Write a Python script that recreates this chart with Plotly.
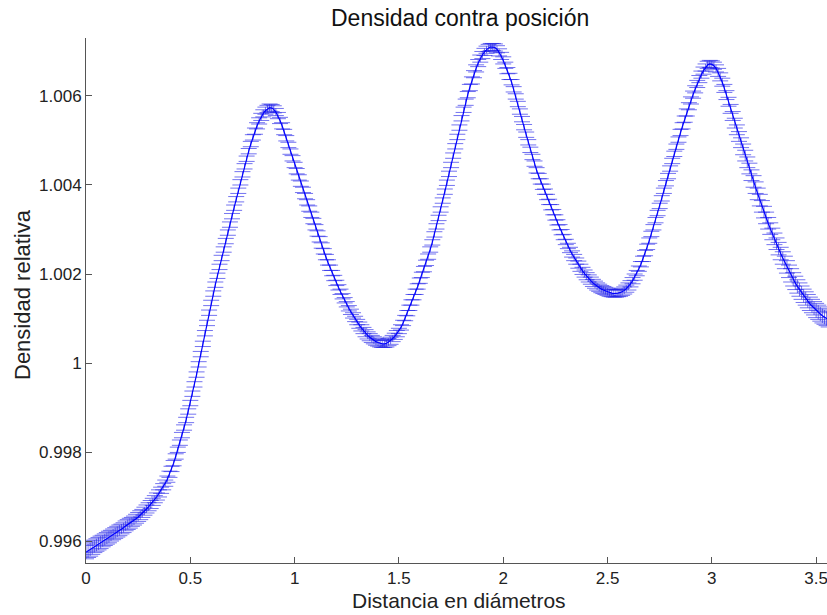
import numpy as np
import plotly.graph_objects as go

# Sample positions (diameters)
distancia = np.round(np.arange(0, 3.5601, 0.01), 2)

# Relative density minus 1, in units of 1e-3
dens_milli = [
    -4.25, -4.22, -4.19, -4.15, -4.12, -4.09, -4.06, -4.03, -4.00, -3.97,
    -3.94, -3.91, -3.88, -3.85, -3.82, -3.79, -3.76, -3.73, -3.70, -3.66,
    -3.63, -3.60, -3.57, -3.54, -3.50, -3.46, -3.42, -3.38, -3.33, -3.28,
    -3.23, -3.18, -3.12, -3.06, -3.00, -2.93, -2.86, -2.78, -2.70, -2.61,
    -2.50, -2.38, -2.25, -2.10, -1.95, -1.79, -1.62, -1.45, -1.28, -1.09,
    -0.90, -0.69, -0.48, -0.26, -0.03, 0.20, 0.43, 0.67, 0.90, 1.13,
    1.35, 1.56, 1.76, 1.96, 2.16, 2.36, 2.55, 2.74, 2.93, 3.11,
    3.30, 3.49, 3.68, 3.87, 4.06, 4.24, 4.42, 4.59, 4.76, 4.92,
    5.07, 5.21, 5.33, 5.44, 5.53, 5.61, 5.67, 5.71, 5.74, 5.73,
    5.70, 5.64, 5.56, 5.45, 5.33, 5.19, 5.05, 4.90, 4.75, 4.60,
    4.45, 4.31, 4.17, 4.03, 3.89, 3.75, 3.61, 3.47, 3.33, 3.19,
    3.05, 2.91, 2.78, 2.64, 2.51, 2.38, 2.26, 2.14, 2.02, 1.91,
    1.80, 1.70, 1.60, 1.50, 1.41, 1.32, 1.23, 1.15, 1.07, 0.99,
    0.92, 0.85, 0.79, 0.73, 0.67, 0.62, 0.58, 0.54, 0.51, 0.48,
    0.46, 0.44, 0.43, 0.43, 0.44, 0.47, 0.50, 0.55, 0.60, 0.66,
    0.72, 0.80, 0.90, 1.01, 1.12, 1.24, 1.36, 1.48, 1.60, 1.72,
    1.85, 1.98, 2.11, 2.25, 2.39, 2.55, 2.71, 2.89, 3.07, 3.26,
    3.45, 3.65, 3.85, 4.05, 4.25, 4.45, 4.66, 4.87, 5.08, 5.29,
    5.50, 5.69, 5.86, 6.03, 6.19, 6.35, 6.49, 6.62, 6.74, 6.84,
    6.92, 6.99, 7.04, 7.08, 7.10, 7.10, 7.09, 7.05, 6.98, 6.90,
    6.80, 6.69, 6.57, 6.44, 6.31, 6.15, 5.99, 5.82, 5.65, 5.48,
    5.30, 5.13, 4.96, 4.79, 4.63, 4.48, 4.33, 4.20, 4.08, 3.96,
    3.85, 3.73, 3.62, 3.50, 3.39, 3.27, 3.16, 3.05, 2.94, 2.83,
    2.72, 2.63, 2.54, 2.45, 2.37, 2.29, 2.21, 2.14, 2.07, 2.01,
    1.95, 1.90, 1.85, 1.80, 1.76, 1.72, 1.69, 1.66, 1.64, 1.62,
    1.60, 1.58, 1.57, 1.56, 1.56, 1.57, 1.58, 1.60, 1.63, 1.67,
    1.72, 1.78, 1.85, 1.93, 2.02, 2.12, 2.22, 2.34, 2.47, 2.61,
    2.75, 2.90, 3.05, 3.21, 3.37, 3.53, 3.70, 3.87, 4.04, 4.20,
    4.37, 4.54, 4.70, 4.86, 5.02, 5.18, 5.33, 5.48, 5.63, 5.77,
    5.90, 6.03, 6.15, 6.27, 6.38, 6.48, 6.57, 6.64, 6.70, 6.72,
    6.71, 6.68, 6.62, 6.53, 6.43, 6.31, 6.17, 6.02, 5.87, 5.71,
    5.55, 5.39, 5.24, 5.09, 4.95, 4.80, 4.66, 4.51, 4.37, 4.22,
    4.08, 3.94, 3.80, 3.66, 3.52, 3.39, 3.26, 3.14, 3.02, 2.90,
    2.79, 2.68, 2.57, 2.46, 2.36, 2.26, 2.16, 2.06, 1.97, 1.88,
    1.80, 1.72, 1.65, 1.58, 1.51, 1.45, 1.39, 1.33, 1.28, 1.23,
    1.18, 1.14, 1.10, 1.06, 1.03, 1.00, 0.97,
]

# Error bar half-lengths, units of 1e-3
err_milli = [
    0.15, 0.15, 0.15, 0.15, 0.14, 0.14, 0.14, 0.14, 0.13, 0.13,
    0.13, 0.13, 0.12, 0.12, 0.12, 0.12, 0.12, 0.11, 0.11, 0.11,
    0.11, 0.11, 0.10, 0.10, 0.10, 0.10, 0.10, 0.09, 0.09, 0.09,
    0.09, 0.09, 0.08, 0.08, 0.08, 0.08, 0.07, 0.07, 0.07, 0.07,
    0.07, 0.06, 0.06, 0.06, 0.06, 0.06, 0.06, 0.06, 0.06, 0.06,
    0.06, 0.06, 0.06, 0.06, 0.06, 0.06, 0.06, 0.06, 0.06, 0.06,
    0.06, 0.06, 0.06, 0.06, 0.06, 0.06, 0.06, 0.06, 0.06, 0.06,
    0.06, 0.06, 0.06, 0.06, 0.06, 0.06, 0.06, 0.06, 0.06, 0.06,
    0.06, 0.07, 0.07, 0.07, 0.08, 0.08, 0.08, 0.08, 0.08, 0.08,
    0.08, 0.08, 0.07, 0.07, 0.07, 0.06, 0.06, 0.06, 0.06, 0.06,
    0.06, 0.06, 0.06, 0.06, 0.06, 0.06, 0.06, 0.06, 0.06, 0.06,
    0.06, 0.06, 0.06, 0.06, 0.06, 0.06, 0.06, 0.06, 0.06, 0.06,
    0.06, 0.06, 0.06, 0.06, 0.06, 0.06, 0.06, 0.06, 0.06, 0.06,
    0.06, 0.07, 0.07, 0.07, 0.08, 0.08, 0.08, 0.08, 0.08, 0.08,
    0.08, 0.08, 0.08, 0.08, 0.08, 0.08, 0.08, 0.07, 0.07, 0.07,
    0.06, 0.06, 0.06, 0.06, 0.06, 0.06, 0.06, 0.06, 0.06, 0.06,
    0.06, 0.06, 0.06, 0.06, 0.06, 0.06, 0.06, 0.06, 0.06, 0.06,
    0.06, 0.06, 0.06, 0.06, 0.06, 0.06, 0.06, 0.06, 0.06, 0.06,
    0.06, 0.06, 0.07, 0.07, 0.07, 0.08, 0.08, 0.08, 0.08, 0.08,
    0.08, 0.08, 0.08, 0.08, 0.08, 0.08, 0.08, 0.08, 0.08, 0.08,
    0.08, 0.07, 0.07, 0.07, 0.06, 0.06, 0.06, 0.06, 0.06, 0.06,
    0.06, 0.06, 0.06, 0.06, 0.06, 0.06, 0.06, 0.06, 0.06, 0.06,
    0.06, 0.06, 0.06, 0.06, 0.06, 0.06, 0.06, 0.06, 0.06, 0.06,
    0.06, 0.06, 0.06, 0.07, 0.07, 0.07, 0.08, 0.08, 0.08, 0.08,
    0.08, 0.08, 0.08, 0.08, 0.08, 0.08, 0.08, 0.08, 0.08, 0.08,
    0.08, 0.08, 0.08, 0.08, 0.08, 0.08, 0.08, 0.08, 0.08, 0.08,
    0.08, 0.07, 0.07, 0.07, 0.06, 0.06, 0.06, 0.06, 0.06, 0.06,
    0.06, 0.06, 0.06, 0.06, 0.06, 0.06, 0.06, 0.06, 0.06, 0.06,
    0.06, 0.06, 0.06, 0.06, 0.06, 0.07, 0.07, 0.07, 0.08, 0.08,
    0.08, 0.08, 0.08, 0.08, 0.08, 0.08, 0.08, 0.08, 0.08, 0.08,
    0.08, 0.08, 0.08, 0.09, 0.09, 0.09, 0.09, 0.10, 0.10, 0.10,
    0.10, 0.11, 0.11, 0.11, 0.11, 0.12, 0.12, 0.12, 0.12, 0.12,
    0.13, 0.13, 0.13, 0.13, 0.13, 0.13, 0.13, 0.13, 0.13, 0.13,
    0.13, 0.13, 0.14, 0.14, 0.14, 0.14, 0.14, 0.14, 0.15, 0.15,
    0.15, 0.15, 0.15, 0.15, 0.15, 0.15, 0.15, 0.15, 0.15, 0.15,
    0.16, 0.16, 0.16, 0.16, 0.16, 0.16, 0.16,
]

x_ticks = [0, 0.5, 1, 1.5, 2, 2.5, 3, 3.5]
x_tick_text = ["0", "0.5", "1", "1.5", "2", "2.5", "3", "3.5"]
y_ticks = [0.996, 0.998, 1.0, 1.002, 1.004, 1.006]
y_tick_text = ["0.996", "0.998", "1", "1.002", "1.004", "1.006"]

titulo = "Densidad contra posición"
x_label = "Distancia en diámetros"
y_label = "Densidad relativa"

densidad = [1 + d * 1e-3 for d in dens_milli]
error = [e * 1e-3 for e in err_milli]

FONT = "Liberation Sans, Arial, sans-serif"

fig = go.Figure()
fig.add_trace(go.Scatter(
    x=distancia, y=densidad, mode="lines",
    line=dict(color="#0000ff", width=1.2),
    error_y=dict(type="data", array=error, visible=True,
                 color="rgba(30,30,230,0.62)", thickness=1, width=8),
    showlegend=False, hoverinfo="x+y",
))

W, H = 827, 615
ml, mr, mt, mb = 86, 0, 38, 52
pw, ph = W - ml - mr, H - mt - mb

axis_common = dict(
    ticks="inside", ticklen=6, tickcolor="#555555",
    showline=True, linecolor="#555555", linewidth=1,
    showgrid=False, zeroline=False, ticklabeloverflow="allow",
    tickfont=dict(size=17, family=FONT, color="#222222"),
)

fig.update_layout(
    width=W, height=H,
    margin=dict(l=ml, r=mr, t=mt, b=mb, pad=0),
    paper_bgcolor="white", plot_bgcolor="white",
    font=dict(family=FONT, color="#222222"),
    showlegend=False,
    xaxis=dict(range=[0, 3.552], tickvals=x_ticks, ticktext=x_tick_text, **axis_common),
    yaxis=dict(range=[0.995506, 1.007303], tickvals=y_ticks, ticktext=y_tick_text, **axis_common),
    annotations=[
        dict(text=titulo, xref="paper", yref="paper",
             x=(460 - ml) / pw, y=1 + (mt - 18) / ph,
             xanchor="center", yanchor="middle", showarrow=False,
             font=dict(size=23, family=FONT, color="#111111")),
        dict(text=x_label, xref="paper", yref="paper",
             x=(459 - ml) / pw, y=-(600 - (H - mb)) / ph,
             xanchor="center", yanchor="middle", showarrow=False,
             font=dict(size=21, family=FONT, color="#222222")),
        dict(text=y_label, xref="paper", yref="paper",
             x=(22 - ml) / pw, y=(H - mb - 295) / ph,
             xanchor="center", yanchor="middle", showarrow=False,
             textangle=-90,
             font=dict(size=22, family=FONT, color="#222222")),
    ],
)

fig.write_html("out.html")
